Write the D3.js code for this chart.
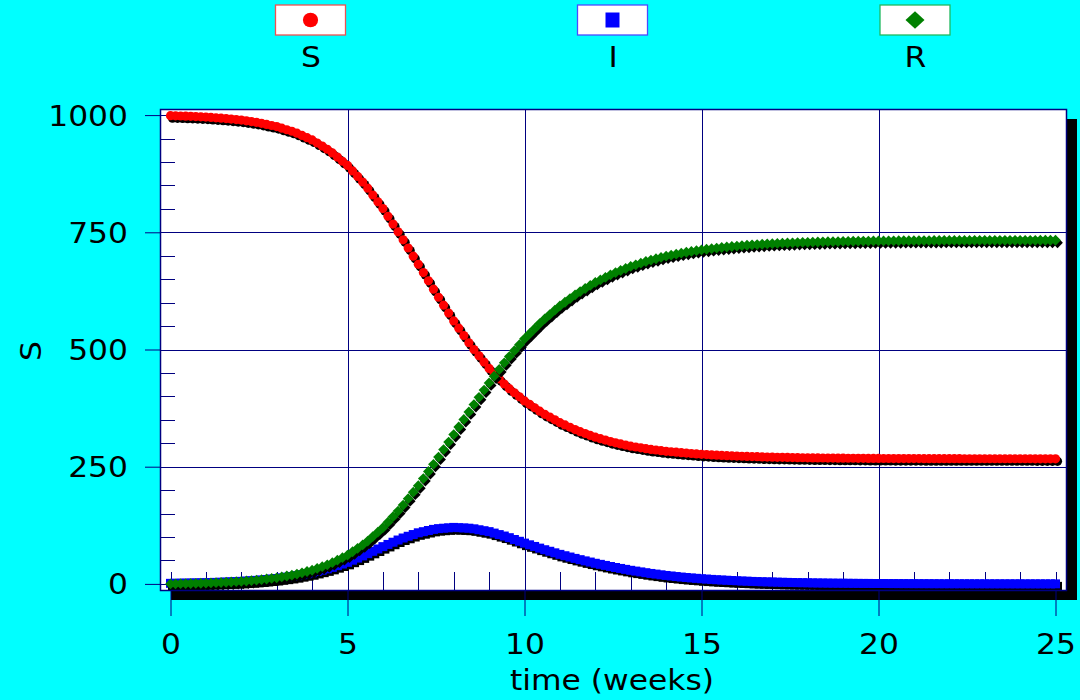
<!DOCTYPE html>
<html><head><meta charset="utf-8">
<script src="https://cdn.jsdelivr.net/npm/d3@7"></script>
<style>html,body{margin:0;padding:0;background:#00FFFF;} svg{display:block;}</style>
</head><body>
<svg id="c" width="1080" height="700"></svg>
<script>
// ---- data (one sample per day, time in weeks) ----
const seriesNames = ["S", "I", "R"];
const seriesColors = ["#FF0000", "#0000FF", "#008000"];
const xTickValues = [0, 5, 10, 15, 20, 25];
const yTickValues = [0, 250, 500, 750, 1000];
const xTitle = "time (weeks)";
const yTitle = "S";
const daysPerWeek = 7;

const S = [
998.8,998.4,998.1,997.7,997.3,996.8,996.3,
995.8,995.0,994.2,993.5,992.6,991.5,990.4,
989.3,987.7,986.1,984.5,982.5,980.2,977.8,
975.5,972.2,968.8,965.5,961.4,956.6,951.9,
947.1,940.5,933.9,927.2,919.4,910.5,901.6,
892.7,880.9,869.1,857.2,844.1,829.6,815.1,
800.6,784.1,767.6,751.1,734.0,716.5,699.1,
681.6,664.0,646.4,628.7,611.5,594.6,577.8,
560.9,545.4,529.9,514.4,500.0,486.5,473.1,
459.7,448.6,437.5,426.4,416.4,407.7,399.0,
390.3,383.0,375.7,368.4,361.8,355.9,350.0,
344.0,339.1,334.1,329.2,324.7,320.8,316.8,
312.9,309.8,306.7,303.6,300.9,298.5,296.2,
293.8,292.0,290.3,288.5,286.9,285.6,284.2,
282.9,281.9,280.9,279.9,279.0,278.2,277.3,
276.5,275.9,275.2,274.6,274.1,273.6,273.1,
272.6,272.3,271.9,271.6,271.3,270.9,270.6,
270.3,270.1,269.9,269.7,269.5,269.3,269.1,
268.9,268.8,268.7,268.6,268.4,268.3,268.2,
268.1,268.0,268.0,267.9,267.8,267.7,267.6,
267.6,267.5,267.5,267.4,267.4,267.4,267.3,
267.3,267.3,267.2,267.2,267.2,267.1,267.1,
267.1,267.1,267.1,267.0,267.0,267.0,267.0,
267.0,267.0,267.0,267.0,267.0,267.0,267.0,
267.0,267.0,267.0,266.9,266.9,266.9,266.9,
266.9];

const I = [
1.2,1.36,1.51,1.67,1.86,2.09,2.32,
2.55,2.88,3.21,3.54,3.94,4.43,4.91,
5.4,6.1,6.8,7.5,8.4,9.4,10.5,
11.5,13.0,14.4,15.9,17.6,19.7,21.7,
23.8,26.6,29.3,32.1,35.3,38.9,42.4,
46.0,50.6,55.1,59.7,64.5,69.5,74.5,
79.5,84.2,88.9,93.6,97.9,101.6,105.3,
109.0,111.4,113.9,116.3,117.9,118.8,119.6,
120.5,119.9,119.4,118.8,117.5,115.5,113.5,
111.5,108.4,105.2,102.1,98.6,94.7,90.9,
87.0,83.4,79.9,76.3,72.9,69.6,66.3,
63.0,60.1,57.3,54.4,51.7,49.1,46.6,
44.0,41.7,39.4,37.1,35.0,33.0,31.0,
29.0,27.3,25.6,23.9,22.3,20.9,19.4,
18.0,16.9,15.7,14.6,13.6,12.7,11.9,
11.0,10.3,9.6,8.9,8.3,7.8,7.2,
6.7,6.2,5.8,5.3,4.9,4.6,4.3,
4.0,3.7,3.4,3.2,2.9,2.7,2.6,
2.4,2.2,2.0,1.9,1.7,1.6,1.5,
1.4,1.3,1.2,1.1,1.0,1.0,0.9,
0.85,0.8,0.7,0.7,0.6,0.6,0.55,
0.5,0.47,0.44,0.4,0.37,0.34,0.32,
0.3,0.28,0.26,0.24,0.22,0.2,0.19,
0.18,0.17,0.15,0.14,0.13,0.12,0.11,
0.1,0.09,0.09,0.08,0.07,0.07,0.06,
0.06];

const R = [
0.0,0.2,0.4,0.6,0.84,1.13,1.41,
1.7,2.12,2.55,2.97,3.48,4.09,4.70,
5.31,6.2,7.1,8.0,9.1,10.4,11.7,
13.0,14.9,16.8,18.7,21.0,23.7,26.4,
29.1,33.0,36.8,40.7,45.3,50.6,55.9,
61.3,68.6,75.8,83.1,91.4,100.9,110.4,
119.9,131.7,143.5,155.3,168.1,181.9,195.6,
209.4,224.6,239.8,255.0,270.6,286.6,302.6,
318.6,334.7,350.7,366.8,382.5,398.0,413.4,
428.8,443.1,457.3,471.6,485.0,497.6,510.1,
522.7,533.6,544.4,555.3,565.3,574.6,583.8,
593.0,600.8,608.6,616.4,623.6,630.1,636.6,
643.1,648.5,653.8,659.2,664.1,668.5,672.8,
677.2,680.7,684.2,687.7,690.8,693.6,696.3,
699.1,701.2,703.4,705.5,707.4,709.1,710.8,
712.5,713.8,715.1,716.4,717.6,718.6,719.7,
720.7,721.6,722.4,723.2,723.9,724.5,725.1,
725.7,726.2,726.7,727.2,727.6,728.0,728.4,
728.7,729.0,729.3,729.6,729.9,730.1,730.3,
730.5,730.7,730.9,731.0,731.2,731.3,731.5,
731.6,731.7,731.8,731.9,732.0,732.1,732.1,
732.2,732.3,732.3,732.4,732.5,732.5,732.6,
732.6,732.6,732.7,732.7,732.7,732.8,732.8,
732.8,732.8,732.8,732.8,732.9,732.9,732.9,
732.9,732.9,732.9,732.9,733.0,733.0,733.0,
733.0];

// ---- layout ----
const W = 1080, H = 700;
const P = {x0: 160, y0: 109, x1: 1066, y1: 590};
const NAVY = "#000080";
const FONT = "'DejaVu Sans', Verdana, sans-serif";
const FS = 28, SX = 1.12;

const svg = d3.select("#c");
svg.append("rect").attr("width", W).attr("height", H).attr("fill", "#00FFFF");

const x = d3.scaleLinear().domain([0, 25]).range([170.5, 1055.5]);
const y = d3.scaleLinear().domain([0, 1000]).range([583.9, 115.1]);

// frame shadow + white plot area
svg.append("rect").attr("x", P.x0 + 11).attr("y", P.y0 + 10)
  .attr("width", P.x1 - P.x0).attr("height", P.y1 - P.y0).attr("fill", "#000");
svg.append("rect").attr("x", P.x0).attr("y", P.y0)
  .attr("width", P.x1 - P.x0).attr("height", P.y1 - P.y0).attr("fill", "#fff");

const snap = v => Math.round(v) + 0.5;
const grid = svg.append("g").attr("stroke", NAVY).attr("stroke-width", 1);
// vertical gridlines
xTickValues.filter(v => v > 0 && v < 25).forEach(v => {
  grid.append("line").attr("x1", snap(x(v))).attr("x2", snap(x(v))).attr("y1", P.y0).attr("y2", P.y1);
});
// horizontal gridlines
yTickValues.filter(v => v > 0 && v < 1000).forEach(v => {
  grid.append("line").attr("x1", P.x0).attr("x2", P.x1).attr("y1", snap(y(v))).attr("y2", snap(y(v)));
});
// minor ticks inside
d3.range(0, 26, 1).forEach(v => {
  grid.append("line").attr("x1", snap(x(v))).attr("x2", snap(x(v))).attr("y1", P.y1).attr("y2", P.y1 - 18);
});
d3.range(0, 1001, 50).forEach(v => {
  grid.append("line").attr("x1", P.x0).attr("x2", P.x0 + 15).attr("y1", snap(y(v))).attr("y2", snap(y(v)));
});

// series markers
svg.append("clipPath").attr("id", "pc").append("rect")
  .attr("x", P.x0).attr("y", P.y0).attr("width", P.x1 - P.x0).attr("height", P.y1 - P.y0);
const plotG = svg.append("g").attr("clip-path", "url(#pc)");

const circlePath = d3.symbol(d3.symbolCircle, Math.PI * 4.6 * 4.6)();
const squarePath = d3.symbol(d3.symbolSquare, 9 * 9)();
const diamondPath = "M0,-5.4L5.4,0L0,5.4L-5.4,0Z";
const shapes = [circlePath, squarePath, diamondPath];
const seriesData = [S, I, R];

seriesData.forEach((vals, si) => {
  const pts = vals.map((v, d) => ({t: d / daysPerWeek, v}));
  const g = plotG.append("g");
  g.selectAll("path.sh").data(pts).join("path").attr("class", "sh")
    .attr("d", shapes[si]).attr("fill", "#000")
    .attr("transform", p => `translate(${x(p.t) + 2},${y(p.v) + 2.5})`);
  g.selectAll("path.mk").data(pts).join("path").attr("class", "mk")
    .attr("d", shapes[si]).attr("fill", seriesColors[si])
    .attr("transform", p => `translate(${x(p.t)},${y(p.v)})`);
});

// plot border
svg.append("rect").attr("x", P.x0 + 0.5).attr("y", P.y0 + 0.5)
  .attr("width", P.x1 - P.x0).attr("height", P.y1 - P.y0)
  .attr("fill", "none").attr("stroke", NAVY).attr("stroke-width", 1.5);

// axes
const xAxis = d3.axisBottom(x).tickValues(xTickValues).tickSize(26).tickSizeOuter(0)
  .tickFormat(d3.format("d"));
const xg = svg.append("g").attr("transform", `translate(0,${P.y1})`).call(xAxis);
xg.select(".domain").remove();
xg.selectAll(".tick line").attr("stroke", NAVY).attr("stroke-width", 1);
xg.selectAll(".tick text").attr("y", 64).attr("dy", null)
  .attr("font-family", FONT).attr("font-size", FS).attr("fill", "#000")
  .attr("transform", `scale(${SX},1)`);

const yAxis = d3.axisLeft(y).tickValues(yTickValues).tickSize(15).tickSizeOuter(0)
  .tickFormat(d3.format("d"));
const yg = svg.append("g").attr("transform", `translate(${P.x0},0)`).call(yAxis);
yg.select(".domain").remove();
yg.selectAll(".tick line").attr("stroke", NAVY).attr("stroke-width", 1);
yg.selectAll(".tick text").attr("x", -32 / SX).attr("dy", "0.36em")
  .attr("font-family", FONT).attr("font-size", FS).attr("fill", "#000")
  .attr("transform", `scale(${SX},1)`);
xg.attr("font-family", FONT); yg.attr("font-family", FONT);

// titles
svg.append("text").attr("transform", `translate(612,690) scale(${SX},1)`)
  .attr("text-anchor", "middle").attr("font-family", FONT).attr("font-size", FS)
  .text(xTitle);
svg.append("text").attr("transform", `translate(41,351) rotate(-90) scale(${SX},1)`)
  .attr("text-anchor", "middle").attr("font-family", FONT).attr("font-size", FS)
  .text(yTitle);

// legend
const legendCx = [310.5, 612.5, 915];
const legendBorder = ["#F05050", "#4A4AFF", "#20B860"];
const legendShapes = [
  "M0,-7.3A7.6,7.3 0 1,1 0,7.3A7.6,7.3 0 1,1 0,-7.3Z",
  "M-7,-7.5H7V7.5H-7Z",
  "M0,-8.7L9.5,0L0,8.7L-9.5,0Z"
];
seriesNames.forEach((name, i) => {
  const g = svg.append("g").attr("transform", `translate(${legendCx[i]},0)`);
  g.append("rect").attr("x", -35).attr("y", 5).attr("width", 70).attr("height", 30)
    .attr("fill", "#fff").attr("stroke", legendBorder[i]).attr("stroke-width", 1.3);
  g.append("path").attr("d", legendShapes[i]).attr("fill", seriesColors[i])
    .attr("transform", "translate(0,20)");
  g.append("text").attr("transform", `translate(0.5,66.5) scale(${SX},1)`)
    .attr("text-anchor", "middle").attr("font-family", FONT).attr("font-size", FS)
    .text(name);
});
</script>
</body></html>
